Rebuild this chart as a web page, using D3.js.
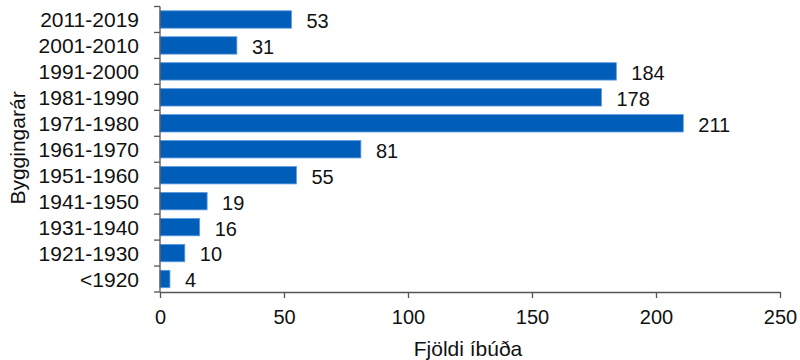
<!DOCTYPE html>
<html><head><meta charset="utf-8">
<script src="https://cdn.jsdelivr.net/npm/d3@7"></script>
<style>body{margin:0;background:#fff}text{font-family:"Liberation Sans",Arial,sans-serif;fill:#111}</style>
</head><body><svg id="c" width="800" height="360"></svg>
<script>
const categories = ["2011-2019","2001-2010","1991-2000","1981-1990","1971-1980","1961-1970","1951-1960","1941-1950","1931-1940","1921-1930","<1920"];
const values = [53,31,184,178,211,81,55,19,16,10,4];
const xTicks = [0,50,100,150,200,250];
const xTitle = "Fjöldi íbúða";
const yTitle = "Byggingarár";

const FS = 20, FL = 21;
const svg = d3.select("#c");
const m = {l:160, r:20, t:6.5, b:68};
const W = 800, H = 360;
const x = d3.scaleLinear().domain([0,250]).range([m.l, W-m.r]);
const y = d3.scaleBand().domain(categories).range([m.t, H-m.b]).paddingInner(0.33).paddingOuter(0.165);

svg.selectAll("rect.bar").data(values).join("rect")
  .attr("class","bar")
  .attr("x", x(0))
  .attr("y",(d,i)=>y(categories[i]))
  .attr("width", d=>x(d)-x(0))
  .attr("height", y.bandwidth())
  .attr("fill","#005db8")
  .attr("stroke","#5d9be0").attr("stroke-width",0.8);

svg.selectAll("text.val").data(values).join("text")
  .attr("class","val")
  .attr("x", d=>x(d)+15)
  .attr("y",(d,i)=>y(categories[i])+y.bandwidth()/2)
  .attr("dy","0.42em")
  .attr("font-size",FS)
  .text(d=>d);

// x axis
const xa = svg.append("g").attr("transform",`translate(0,${H-m.b})`)
  .call(d3.axisBottom(x).tickValues(xTicks).tickSize(6).tickSizeOuter(0).tickPadding(12));
xa.selectAll("path,line").attr("stroke","#555").attr("stroke-width",1.3);
xa.selectAll("text").attr("font-size",FS).attr("font-family","Liberation Sans, Arial, sans-serif").attr("fill","#111");

// y axis with ticks at band boundaries
const ya = svg.append("g").attr("transform",`translate(${m.l},0)`);
ya.append("line").attr("x1",0).attr("x2",0).attr("y1",m.t).attr("y2",H-m.b).attr("stroke","#555").attr("stroke-width",1.3);
const step = y.step();
const bounds = d3.range(categories.length+1).map(i=>m.t + i*step);
ya.selectAll("line.t").data(bounds).join("line").attr("class","t")
  .attr("x1",-6).attr("x2",0).attr("y1",d=>d).attr("y2",d=>d).attr("stroke","#555").attr("stroke-width",1.3);
ya.selectAll("text").data(categories).join("text")
  .attr("x",-21).attr("y",d=>y(d)+y.bandwidth()/2).attr("dy","0.36em")
  .attr("text-anchor","end").attr("font-size",FL).text(d=>d);

svg.append("text").attr("x",468).attr("y",356).attr("text-anchor","middle").attr("font-size",FL).text(xTitle);
svg.append("text").attr("transform","translate(25,148) rotate(-90)").attr("text-anchor","middle").attr("font-size",FL).text(yTitle);
</script></body></html>
